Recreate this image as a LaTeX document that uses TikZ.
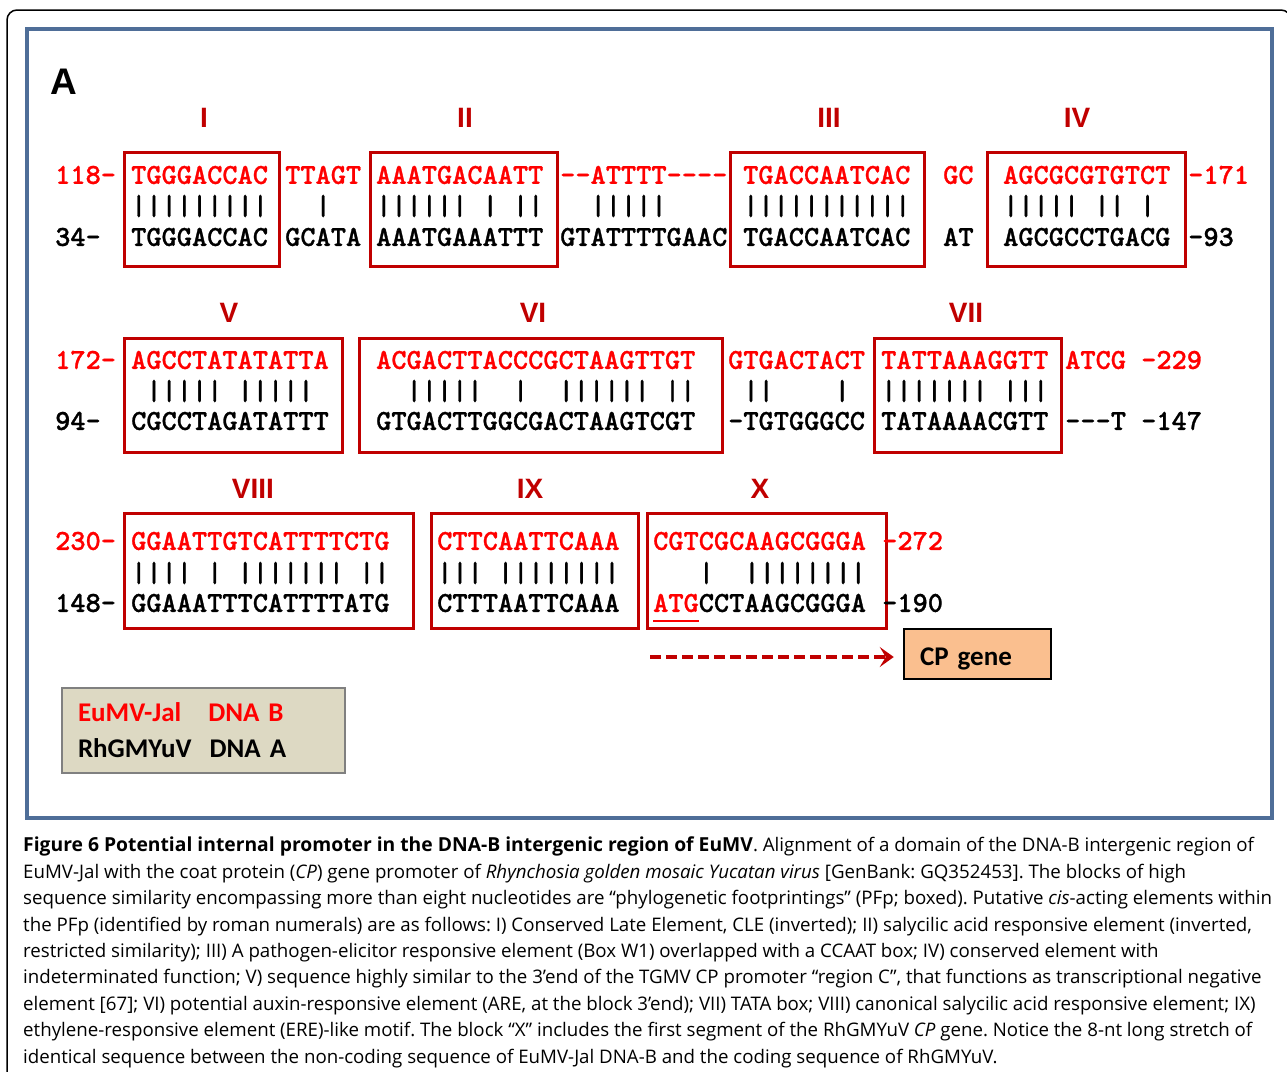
\documentclass[tikz,border=0pt]{standalone}
\usepackage{xcolor}
\usepackage{fontspec}
\usepackage{tikz}
\usetikzlibrary{shapes, arrows, arrows.meta, positioning, fit}

\setmainfont{Open Sans}
\newfontfamily\seqfont{lmmonolt10-bold.otf}[FakeBold=1]
\newfontfamily\headfont{Liberation Sans}
\newfontfamily\boxfont{Carlito}
\frenchspacing

\definecolor{seqred}{RGB}{255,0,0}
\definecolor{darkred}{RGB}{192,0,0}
\definecolor{frameblue}{RGB}{79,110,152}
\definecolor{legendfill}{RGB}{221,217,195}
\definecolor{cpfill}{RGB}{250,191,143}

\begin{document}
\begin{tikzpicture}[x=1pt, y=-1pt, node distance=31pt]
\tikzstyle{seq} = [anchor=west, inner sep=0pt, text height=17.7pt, text depth=0pt, font=\seqfont\fontsize{28.95}{28.95}\selectfont]
\tikzstyle{dnab} = [seq, text=seqred]
\tikzstyle{dnaa} = [seq, text=black]
\tikzstyle{pfp} = [rectangle, draw=darkred, line width=3pt, inner sep=0pt]
\tikzstyle{numeral} = [text=darkred, inner sep=0pt, font=\headfont\bfseries\fontsize{28}{28}\selectfont]
\tikzstyle{legendbox} = [rectangle, draw=gray, fill=legendfill, line width=1.5pt, minimum width=283pt, minimum height=85pt, text width=251pt, inner xsep=16pt, align=left, font=\boxfont\bfseries\fontsize{27}{36}\selectfont]
\tikzstyle{cpbox} = [rectangle, draw=black, fill=cpfill, line width=2.5pt, minimum width=147pt, minimum height=50pt, text width=115pt, text height=22pt, text depth=0pt, inner xsep=16pt, align=left, font=\boxfont\bfseries\fontsize{27}{27}\selectfont]
\tikzstyle{arrow} = [darkred, line width=4pt, dash pattern=on 11pt off 5pt, ->, >={Stealth[length=14pt, width=20pt, inset=6pt]}]

\useasboundingbox (0,0) rectangle (1287,1071);

% frames
\draw [line width=1.5pt, rounded corners=10pt] (7,1090) -- (7,10) -- (1291,10) -- (1291,1090);
\draw [frameblue, line width=4pt] (27,29) rectangle (1272,818);

\node (panel) [inner sep=0pt, font=\headfont\bfseries\fontsize{37}{37}\selectfont] at (64,82) {A};

% row 1
\node (numI) [numeral] at (204,118) {I};
\node (numII) [numeral] at (465,118) {II};
\node (numIII) [numeral] at (829,118) {III};
\node (numIV) [numeral] at (1077,118) {IV};

\node (posb1) [dnab] at (55,175) {118-};
\node (posa1) [dnaa] at (55,237) {34-};

\node (boxI) [pfp, fit={(124,152) (279,266)}] {};
\node (seqbI) [dnab] at (131,175) {TGGGACCAC};
\node (barI) [dnaa] at (131,206) {|||||||||};
\node (seqaI) [dnaa] at (131,237) {TGGGACCAC};

\node (gapb1) [dnab] at (285,175) {TTAGT};
\node (gapbar1) [dnaa] at (285,206) {~~|};
\node (gapa1) [dnaa] at (285,237) {GCATA};

\node (boxII) [pfp, fit={(370,152) (557,266)}] {};
\node (seqbII) [dnab] at (376,175) {AAATGACAATT};
\node (barII) [dnaa] at (376,206) {||||||~|~||};
\node (seqaII) [dnaa] at (376,237) {AAATGAAATTT};

\node (gapb2) [dnab] at (560,175) {--ATTTT----};
\node (gapbar2) [dnaa] at (560,206) {~~|||||};
\node (gapa2) [dnaa] at (560,237) {GTATTTTGAAC};

\node (boxIII) [pfp, fit={(730,152) (924,266)}] {};
\node (seqbIII) [dnab] at (743,175) {TGACCAATCAC};
\node (barIII) [dnaa] at (743,206) {|||||||||||};
\node (seqaIII) [dnaa] at (743,237) {TGACCAATCAC};

\node (gapb3) [dnab] at (943,175) {GC};
\node (gapa3) [dnaa] at (943,237) {AT};

\node (boxIV) [pfp, fit={(987,152) (1185,266)}] {};
\node (seqbIV) [dnab] at (1003,175) {AGCGCGTGTCT};
\node (barIV) [dnaa] at (1003,206) {|||||~||~|};
\node (seqaIV) [dnaa] at (1003,237) {AGCGCCTGACG};

\node (endb1) [dnab] at (1188,175) {-171};
\node (enda1) [dnaa] at (1188,237) {-93};

% row 2
\node (numV) [numeral] at (229,313) {V};
\node (numVI) [numeral] at (533,313) {VI};
\node (numVII) [numeral] at (966,313) {VII};

\node (posb2) [dnab] at (55,360) {172-};
\node (posa2) [dnaa] at (55,421) {94-};

\node (boxV) [pfp, fit={(124,338) (342,452)}] {};
\node (seqbV) [dnab] at (131,360) {AGCCTATATATTA};
\node (barV) [dnaa] at (131,391) {~|||||~|||||};
\node (seqaV) [dnaa] at (131,421) {CGCCTAGATATTT};

\node (boxVI) [pfp, fit={(359,338) (722,452)}] {};
\node (seqbVI) [dnab] at (376,360) {ACGACTTACCCGCTAAGTTGT};
\node (barVI) [dnaa] at (376,391) {~~|||||~~|~~||||||~||};
\node (seqaVI) [dnaa] at (376,421) {GTGACTTGGCGACTAAGTCGT};

\node (gapb4) [dnab] at (728,360) {GTGACTACT};
\node (gapbar4) [dnaa] at (728,391) {~||~~~~|};
\node (gapa4) [dnaa] at (728,421) {-TGTGGGCC};

\node (boxVII) [pfp, fit={(874,338) (1061,452)}] {};
\node (seqbVII) [dnab] at (881,360) {TATTAAAGGTT};
\node (barVII) [dnaa] at (881,391) {|||||||~|||};
\node (seqaVII) [dnaa] at (881,421) {TATAAAACGTT};

\node (endb2) [dnab] at (1065,360) {ATCG~-229};
\node (enda2) [dnaa] at (1065,421) {---T~-147};

% row 3
\node (numVIII) [numeral] at (253,489) {VIII};
\node (numIX) [numeral] at (530,489) {IX};
\node (numX) [numeral] at (760,489) {X};

\node (posb3) [dnab] at (55,541) {230-};
\node (posa3) [dnaa] at (55,603) {148-};

\node (boxVIII) [pfp, fit={(124,513) (413,628)}] {};
\node (seqbVIII) [dnab] at (131,541) {GGAATTGTCATTTTCTG};
\node (barVIII) [dnaa] at (131,573) {||||~|~|||||||~||};
\node (seqaVIII) [dnaa] at (131,603) {GGAAATTTCATTTTATG};

\node (boxIX) [pfp, fit={(431,513) (638,628)}] {};
\node (seqbIX) [dnab] at (437,541) {CTTCAATTCAAA};
\node (barIX) [dnaa] at (437,573) {|||~||||||||};
\node (seqaIX) [dnaa] at (437,603) {CTTTAATTCAAA};

\node (boxX) [pfp, fit={(647,513) (886,628)}] {};
\node (seqbX) [dnab] at (653,541) {CGTCGCAAGCGGGA};
\node (barX) [dnaa] at (653,573) {~~~|~~||||||||};
\node (seqaX) [dnaa] at (653,603) {\textcolor{seqred}{ATG}CCTAAGCGGGA};
\draw [seqred, line width=1.5pt] ([yshift=-9pt]seqaX.south west) -- ++(46,0);

\node (endb3) [dnab] at (882,541) {-272};
\node (enda3) [dnaa] at (882,603) {-190};

% CP gene
\node (cpgene) [cpbox] at (977.5,654) {CP gene};
\coordinate (cpstart) at (650,657);
\draw [arrow] (cpstart) -- (cpgene.west |- cpstart) [shorten >=9pt];

% legend
\node (legend) [legendbox] at (203.5,730.5) {\textcolor{seqred}{EuMV-Jal\ \ \ DNA B}\\RhGMYuV\ \ DNA A};

% caption
\node (caption) [anchor=north west, align=left, inner sep=0pt, font=\fontsize{18.7}{26.4}\selectfont] at (23,837) {\textbf{\fontsize{19.3}{26.4}\selectfont Figure 6 Potential internal promoter in the DNA-B intergenic region of EuMV}. Alignment of a domain of the DNA-B intergenic region of\\
EuMV-Jal with the coat protein (\textit{CP}) gene promoter of \textit{Rhynchosia golden mosaic Yucatan virus} [GenBank: GQ352453]. The blocks of high\\
sequence similarity encompassing more than eight nucleotides are “phylogenetic footprintings” (PFp; boxed). Putative \textit{cis}-acting elements within\\
the PFp (identified by roman numerals) are as follows: I) Conserved Late Element, CLE (inverted); II) salycilic acid responsive element (inverted,\\
restricted similarity); III) A pathogen-elicitor responsive element (Box W1) overlapped with a CCAAT box; IV) conserved element with\\
indeterminated function; V) sequence highly similar to the 3’end of the TGMV CP promoter “region C”, that functions as transcriptional negative\\
element [67]; VI) potential auxin-responsive element (ARE, at the block 3’end); VII) TATA box; VIII) canonical salycilic acid responsive element; IX)\\
ethylene-responsive element (ERE)-like motif. The block “X” includes the first segment of the RhGMYuV \textit{CP} gene. Notice the 8-nt long stretch of\\
identical sequence between the non-coding sequence of EuMV-Jal DNA-B and the coding sequence of RhGMYuV.};

\end{tikzpicture}
\end{document}
